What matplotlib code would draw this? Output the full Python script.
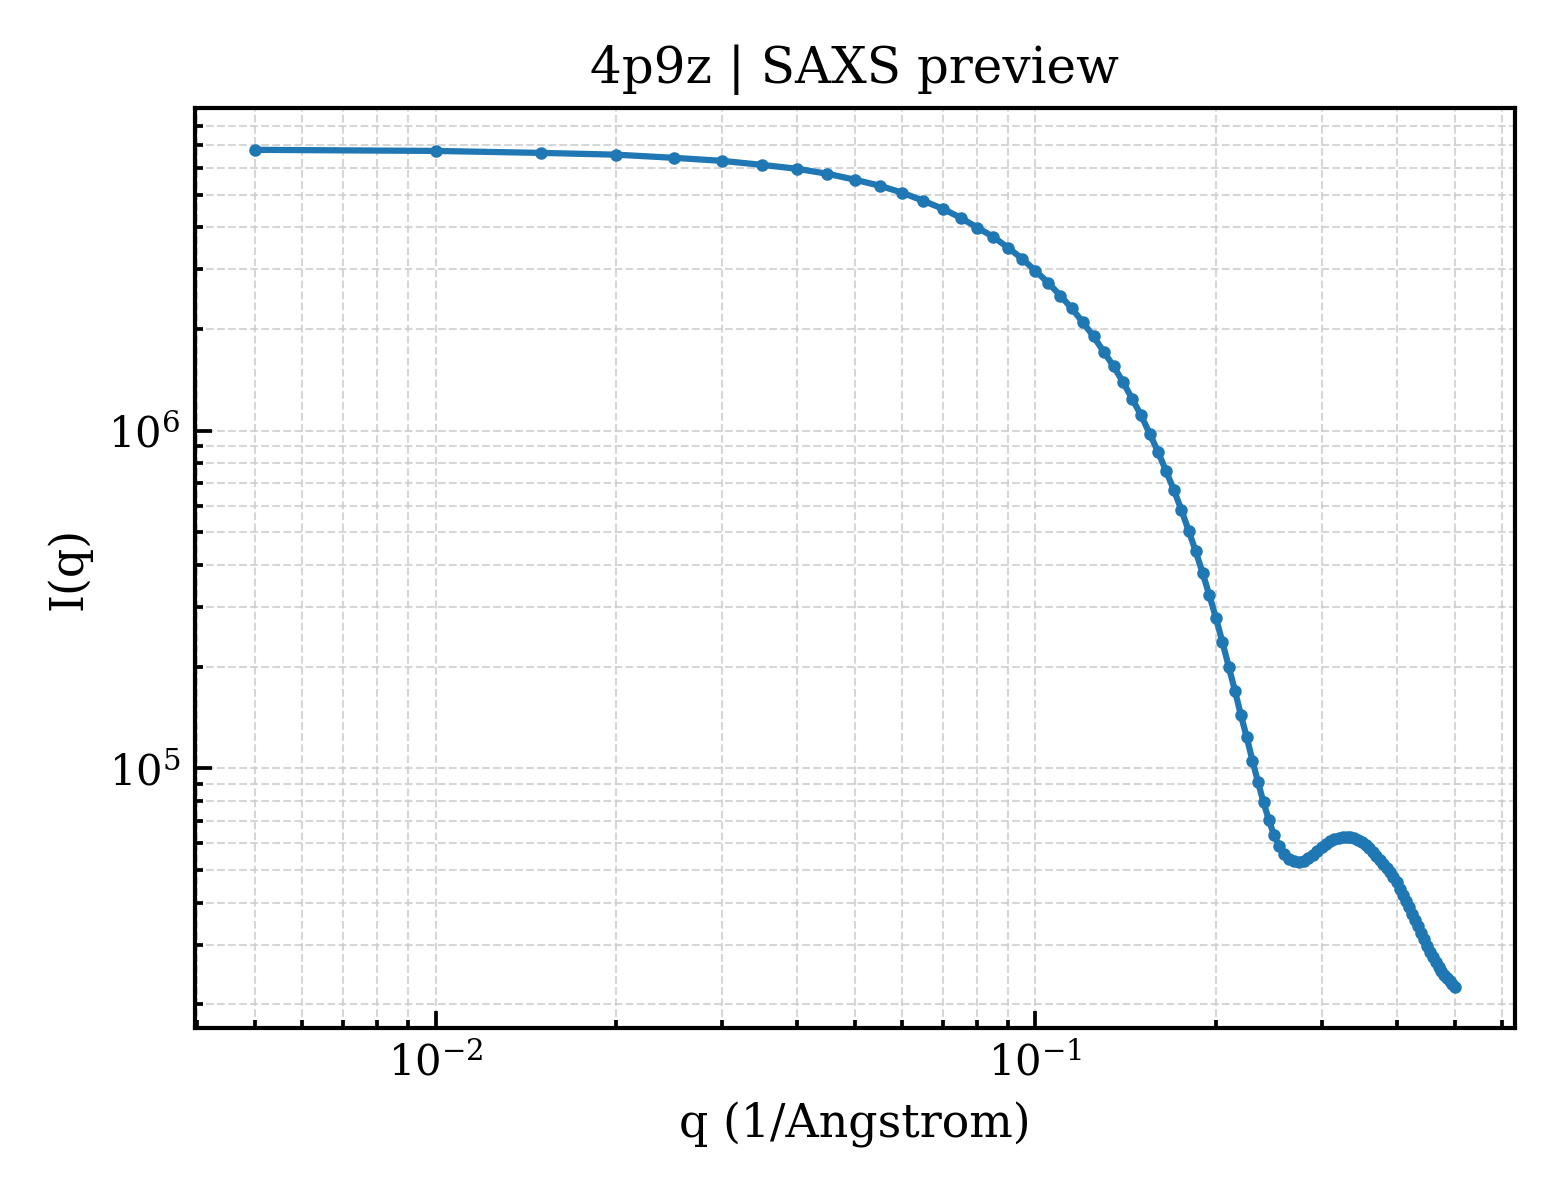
import matplotlib
matplotlib.use("Agg")
import matplotlib.pyplot as plt
import numpy as np

# SAXS profile (q in 1/Angstrom)
q = [0.005, 0.010, 0.015, 0.020, 0.025, 0.030, 0.035, 0.040, 0.045, 0.050,
     0.055, 0.060, 0.065, 0.070, 0.075, 0.080, 0.085, 0.090, 0.095, 0.100,
     0.105, 0.110, 0.115, 0.120, 0.125, 0.130, 0.135, 0.140, 0.145, 0.150,
     0.155, 0.160, 0.165, 0.170, 0.175, 0.180, 0.185, 0.190, 0.195, 0.200,
     0.205, 0.210, 0.215, 0.220, 0.225, 0.230, 0.235, 0.240, 0.245, 0.250,
     0.255, 0.260, 0.265, 0.270, 0.275, 0.280, 0.285, 0.290, 0.295, 0.300,
     0.305, 0.310, 0.315, 0.320, 0.325, 0.330, 0.335, 0.340, 0.345, 0.350,
     0.355, 0.360, 0.365, 0.370, 0.375, 0.380, 0.385, 0.390, 0.395, 0.400,
     0.405, 0.410, 0.415, 0.420, 0.425, 0.430, 0.435, 0.440, 0.445, 0.450,
     0.455, 0.460, 0.465, 0.470, 0.475, 0.480, 0.485, 0.490, 0.495, 0.500]

intensity = [6.78e6, 6.73e6, 6.64e6, 6.56e6, 6.42e6, 6.29e6, 6.12e6, 5.96e6, 5.76e6, 5.53e6,
             5.31e6, 5.06e6, 4.79e6, 4.54e6, 4.27e6, 3.99e6, 3.75e6, 3.48e6, 3.23e6, 2.97e6,
             2.74e6, 2.51e6, 2.30e6, 2.09e6, 1.90e6, 1.71e6, 1.55e6, 1.39e6, 1.24e6, 1.11e6,
             9.80e5, 8.67e5, 7.61e5, 6.69e5, 5.84e5, 5.06e5, 4.39e5, 3.78e5, 3.25e5, 2.78e5,
             2.36e5, 2.00e5, 1.70e5, 1.44e5, 1.235e5, 1.055e5, 9.09e4, 7.93e4, 7.02e4, 6.33e4,
             5.88e4, 5.57e4, 5.38e4, 5.31e4, 5.27e4, 5.31e4, 5.42e4, 5.53e4, 5.68e4, 5.84e4,
             5.96e4, 6.08e4, 6.17e4, 6.21e4, 6.25e4, 6.25e4, 6.25e4, 6.21e4, 6.12e4, 6.04e4,
             5.92e4, 5.80e4, 5.64e4, 5.49e4, 5.34e4, 5.20e4, 5.06e4, 4.92e4, 4.76e4, 4.60e4,
             4.39e4, 4.21e4, 4.04e4, 3.88e4, 3.70e4, 3.55e4, 3.41e4, 3.25e4, 3.12e4, 2.99e4,
             2.87e4, 2.76e4, 2.67e4, 2.58e4, 2.51e4, 2.44e4, 2.39e4, 2.34e4, 2.30e4, 2.26e4]

plt.rcParams['font.family'] = 'DejaVu Serif'
plt.rcParams['mathtext.fontset'] = 'dejavuserif'

fig, ax = plt.subplots(figsize=(5.2, 4), dpi=300)
fig.subplots_adjust(left=0.125, right=0.971, top=0.91, bottom=0.143)

ax.plot(q, intensity, '-o', color='#1f77b4', lw=1.5, ms=2)
ax.set_xscale('log')
ax.set_yscale('log')

ax.set_xlabel('q (1/Angstrom)', fontsize=11)
ax.set_ylabel('I(q)', fontsize=11)
ax.set_title('4p9z | SAXS preview', fontsize=12)

for s in ax.spines.values():
    s.set_linewidth(1.0)
ax.tick_params(which='both', direction='in', labelsize=10, width=0.9)
ax.tick_params(which='major', length=4)
ax.tick_params(which='minor', length=2)
ax.grid(True, which='both', ls='--', lw=0.5, color='#cccccc', alpha=0.8)

plt.savefig('out.png', dpi=300)
